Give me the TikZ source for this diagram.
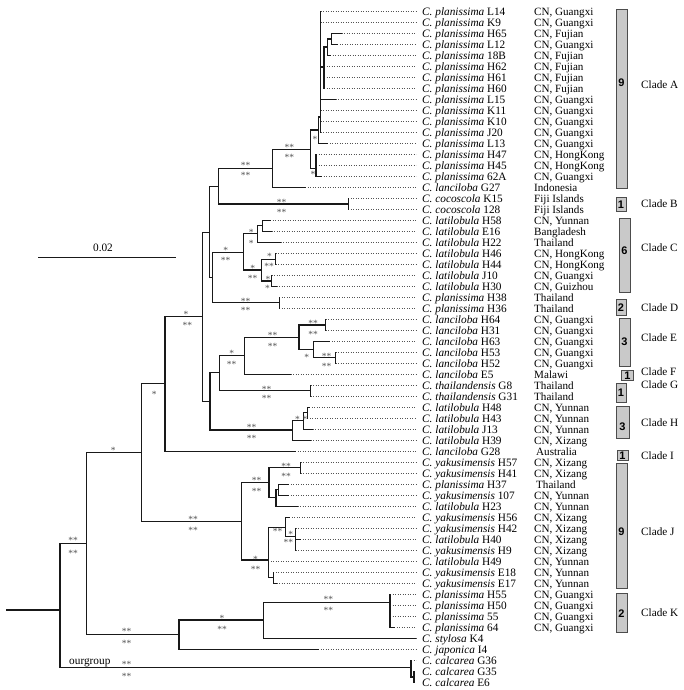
\documentclass[tikz,border=0pt]{standalone}
\usepackage{fontspec}
\setmainfont{Liberation Serif}
\newfontfamily\boxfont{Liberation Sans}
\newcount\bscnt
\tikzset{
  br/.style={line width=1.5pt,black!90,line join=miter,line cap=rect},
  dotln/.style={line width=0.7pt,gray!65!black,dash pattern=on 0.8pt off 1.7pt},
  sp/.style={anchor=base west,inner sep=0pt,font=\fontsize{11.3}{11}\selectfont},
  rg/.style={anchor=base west,inner sep=0pt,font=\fontsize{11.1}{11}\selectfont},
  bsstyle/.style={anchor=base,inner sep=0pt,text=gray!65!black,font=\fontsize{9.5}{9}\selectfont},
  cboxst/.style={fill=gray!42,draw=gray!60!black,line width=0.7pt},
  cnum/.style={anchor=base,inner sep=0pt,font=\boxfont\bfseries\fontsize{11}{11}\selectfont},
  clab/.style={anchor=base west,inner sep=0pt,font=\fontsize{11.2}{11}\selectfont},
}
% leaf with region
\newcommand{\lf}[5]{%
  \coordinate (t#1) at (#2,{0.5+11*#3});
  \draw[dotln] (t#1) -- (t#1 -| dotend);
  \node[sp] (s#1) at (422,{4.3+11*#3}) {\textit{C. #4} #1};
  \node[rg] (r#1) at (534,{4.3+11*#3}) {#5};
}
% leaf without region
\newcommand{\lfn}[4]{%
  \coordinate (t#1) at (#2,{0.5+11*#3});
  \draw[dotln] (t#1) -- (t#1 -| dotend);
  \node[sp] (s#1) at (422,{4.3+11*#3}) {\textit{C. #4} #1};
}
\newcommand{\bsl}[3]{%
  \global\advance\bscnt by 1
  \node[bsstyle] (b\the\bscnt) at (#1,{#2+4.3}) {#3};
}
\newcommand{\cl}[9]{%
  \draw[cboxst] (#2,#3) rectangle (#4,#5);
  \node[cnum] (n#1) at ({(#2+#4)/2},{#7+4}) {#6};
  \node[clab] (c#1) at (641,{#9+3.8}) {#8};
}
\begin{document}
\begin{tikzpicture}[x=1pt,y=-1pt]
\useasboundingbox (0,0) rectangle (683,690);
\fill[white] (0,0) rectangle (683,690);
\coordinate (dotend) at (416,0);

% ---------- leaves ----------
\lf{L14}{320.7}{1}{planissima}{CN, Guangxi}
\lf{K9}{320.7}{2}{planissima}{CN, Guangxi}
\lf{H65}{341.7}{3}{planissima}{CN, Fujian}
\lf{L12}{337.3}{4}{planissima}{CN, Guangxi}
\lf{18B}{330}{5}{planissima}{CN, Fujian}
\lf{H62}{324}{6}{planissima}{CN, Fujian}
\lf{H61}{324}{7}{planissima}{CN, Fujian}
\lf{H60}{324}{8}{planissima}{CN, Fujian}
\lf{L15}{335.7}{9}{planissima}{CN, Guangxi}
\lf{K11}{320.7}{10}{planissima}{CN, Guangxi}
\lf{K10}{320.7}{11}{planissima}{CN, Guangxi}
\lf{J20}{320.7}{12}{planissima}{CN, Guangxi}
\lf{L13}{327.3}{13}{planissima}{CN, Guangxi}
\lf{H47}{316}{14}{planissima}{CN, HongKong}
\lf{H45}{316}{15}{planissima}{CN, HongKong}
\lf{62A}{321}{16}{planissima}{CN, Guangxi}
\lf{G27}{305}{17}{lanciloba}{Indonesia}
\lf{K15}{348.3}{18}{cocoscola}{Fiji Islands}
\lf{128}{348.3}{19}{cocoscola}{Fiji Islands}
\lf{H58}{270}{20}{latilobula}{CN, Yunnan}
\lf{E16}{271.7}{21}{latilobula}{Bangladesh}
\lf{H22}{280.7}{22}{latilobula}{Thailand}
\lf{H46}{275.7}{23}{latilobula}{CN, HongKong}
\lf{H44}{275.7}{24}{latilobula}{CN, HongKong}
\lf{J10}{271.7}{25}{latilobula}{CN, Guangxi}
\lf{H30}{276.7}{26}{latilobula}{CN, Guizhou}
\lf{H38}{279.3}{27}{planissima}{Thailand}
\lf{H36}{279.3}{28}{planissima}{Thailand}
\lf{H64}{325.7}{29}{lanciloba}{CN, Guangxi}
\lf{H31}{325.7}{30}{lanciloba}{CN, Guangxi}
\lf{H63}{329.3}{31}{lanciloba}{CN, Guangxi}
\lf{H53}{335.7}{32}{lanciloba}{CN, Guangxi}
\lf{H52}{335.7}{33}{lanciloba}{CN, Guangxi}
\lf{E5}{290.7}{34}{lanciloba}{Malawi}
\lf{G8}{310.7}{35}{thailandensis}{Thailand}
\lf{G31}{310.7}{36}{thailandensis}{Thailand}
\lf{H48}{309.3}{37}{latilobula}{CN, Yunnan}
\lf{H43}{307.3}{38}{latilobula}{CN, Yunnan}
\lf{J13}{312.7}{39}{latilobula}{CN, Yunnan}
\lf{H39}{310.7}{40}{latilobula}{CN, Xizang}
\lf{G28}{295}{41}{lanciloba}{\hspace{2pt}Australia}
\lf{H57}{300.7}{42}{yakusimensis}{CN, Xizang}
\lf{H41}{300.7}{43}{yakusimensis}{CN, Xizang}
\lf{H37}{288.3}{44}{planissima}{\hspace{2pt}Thailand}
\lf{107}{288.3}{45}{yakusimensis}{CN, Yunnan}
\lf{H23}{297.7}{46}{latilobula}{CN, Yunnan}
\lf{H56}{289.3}{47}{yakusimensis}{CN, Xizang}
\lf{H42}{295.7}{48}{yakusimensis}{CN, Xizang}
\lf{H40}{300}{49}{latilobula}{CN, Xizang}
\lf{H9}{295.7}{50}{yakusimensis}{CN, Xizang}
\lf{H49}{268.3}{51}{latilobula}{CN, Yunnan}
\lf{E18}{273.3}{52}{yakusimensis}{CN, Yunnan}
\lf{E17}{276.7}{53}{yakusimensis}{CN, Yunnan}
\lf{H55}{390}{54}{planissima}{CN, Guangxi}
\lf{H50}{390}{55}{planissima}{CN, Guangxi}
\lf{55}{390}{56}{planissima}{CN, Guangxi}
\lf{64}{394}{57}{planissima}{CN, Guangxi}
\lfn{K4}{415.7}{58}{stylosa}
\lfn{I4}{318}{59}{japonica}
\lfn{G36}{411}{60}{calcarea}
\lfn{G35}{414}{61}{calcarea}
\lfn{E6}{414}{62}{calcarea}

% ---------- internal nodes ----------
\coordinate (R0) at (7,610);
\coordinate (R) at (60,610);
\coordinate (N1) at (86.3,543.3);
\coordinate (OG) at (411,667.7);
\coordinate (OG2) at (414,677);
\coordinate (N2) at (141.7,452.3);
\coordinate (N3) at (179,634.3);
\coordinate (N4) at (263.3,620);
\coordinate (NK) at (390,602.7);
\coordinate (N5) at (165,383.3);
\coordinate (N6) at (202.3,316.7);
\coordinate (N7) at (209.3,232.3);
\coordinate (N8) at (210,401.7);
\coordinate (N9) at (218.3,186.3);
\coordinate (N10) at (212.5,277.3);
\coordinate (N11) at (272.3,168.3);
\coordinate (NB) at (348.3,204);
\coordinate (NA) at (310.7,149.3);
\coordinate (NA1) at (318.3,130);
\coordinate (NA2) at (316,168.3);
\coordinate (NA3) at (320.7,117);
\coordinate (NA4) at (324,67);
\coordinate (NA5) at (327.7,47);
\coordinate (NA6) at (331.7,39);
\coordinate (NC) at (243.3,252.3);
\coordinate (ND) at (279.3,302.7);
\coordinate (NC1) at (257.7,233.3);
\coordinate (NC2) at (261.7,270);
\coordinate (NC3) at (262.7,225.7);
\coordinate (NC4) at (275.7,259.3);
\coordinate (NC5) at (271.7,281);
\coordinate (N12) at (219.3,372.3);
\coordinate (NH) at (292.3,430);
\coordinate (NG) at (310.7,390.7);
\coordinate (NEF) at (244.3,355.7);
\coordinate (NE) at (299,337.3);
\coordinate (NE1) at (325.7,325);
\coordinate (NE2) at (313.3,349.3);
\coordinate (NE3) at (335.7,357.3);
\coordinate (NH1) at (303.3,420.7);
\coordinate (NH2) at (307.3,412.7);
\coordinate (NJ) at (241.7,521.7);
\coordinate (NJ1) at (269,482.7);
\coordinate (NJ2) at (268.3,560);
\coordinate (NJ3) at (300.7,467.7);
\coordinate (NJ4) at (276,497.3);
\coordinate (NJ5) at (278.3,489.3);
\coordinate (NJ6) at (285.7,527.3);
\coordinate (NJ7) at (273.3,577.7);
\coordinate (NJ8) at (295.7,536.7);

% ---------- branches ----------
\draw[br] (R0) -- (R);
\foreach \p/\c in {R/N1, R/OG, OG/tG36, OG/OG2, OG2/tG35, OG2/tE6,
  N1/N2, N1/N3, N3/N4, N3/tI4, N4/NK, N4/tK4, NK/tH55, NK/tH50, NK/t55, NK/t64,
  N2/N5, N2/NJ, N5/N6, N5/tG28, N6/N7, N6/N8, N7/N9, N7/N10,
  N9/N11, N9/NB, N11/NA, N11/tG27, NB/tK15, NB/t128,
  NA/NA1, NA/NA2, NA2/tH47, NA2/tH45, NA2/t62A, NA1/NA3, NA1/tL13,
  NA3/tL14, NA3/tK9, NA3/NA4, NA3/tL15, NA3/tK11, NA3/tK10, NA3/tJ20,
  NA4/NA5, NA4/tH62, NA4/tH61, NA4/tH60, NA5/NA6, NA5/t18B, NA6/tH65, NA6/tL12,
  N10/NC, N10/ND, ND/tH38, ND/tH36, NC/NC1, NC/NC2, NC1/NC3, NC1/tH22,
  NC3/tH58, NC3/tE16, NC2/NC4, NC2/NC5, NC4/tH46, NC4/tH44, NC5/tJ10, NC5/tH30,
  N8/N12, N8/NH, N12/NEF, N12/NG, NG/tG8, NG/tG31, NEF/NE, NEF/tE5,
  NE/NE1, NE/NE2, NE1/tH64, NE1/tH31, NE2/tH63, NE2/NE3, NE3/tH53, NE3/tH52,
  NH/NH1, NH/tH39, NH1/NH2, NH1/tJ13, NH2/tH48, NH2/tH43,
  NJ/NJ1, NJ/NJ2, NJ1/NJ3, NJ1/NJ4, NJ3/tH57, NJ3/tH41, NJ4/NJ5, NJ4/tH23,
  NJ5/tH37, NJ5/t107, NJ2/NJ6, NJ2/tH49, NJ2/NJ7, NJ6/tH56, NJ6/NJ8,
  NJ8/tH42, NJ8/tH40, NJ8/tH9, NJ7/tE18, NJ7/tE17}
  \draw[br] (\p) |- (\c);

% ---------- support labels ----------
\bsl{73}{539}{**}\bsl{73}{551.7}{**}
\bsl{113.3}{449}{*}
\bsl{126.7}{630.5}{**}\bsl{126.7}{642.3}{**}
\bsl{126.7}{663.3}{**}\bsl{126.7}{675}{**}
\bsl{222}{616.7}{*}\bsl{222}{628}{**}
\bsl{328.3}{598.5}{**}\bsl{328.3}{609.5}{**}
\bsl{154.3}{392.7}{*}
\bsl{186}{312.7}{*}\bsl{187.3}{324}{**}
\bsl{193}{518}{**}\bsl{193}{529}{**}
\bsl{245.7}{164.3}{**}\bsl{245.7}{174.3}{**}
\bsl{281.7}{200.7}{**}\bsl{281.7}{211}{**}
\bsl{289.3}{145.7}{**}\bsl{289.3}{155.7}{**}
\bsl{315}{138}{*}
\bsl{313}{173.3}{*}
\bsl{225.7}{249.3}{*}\bsl{225.7}{258.7}{**}
\bsl{245.7}{300}{**}\bsl{245.7}{309}{**}
\bsl{251.3}{231.3}{*}\bsl{251.3}{241.7}{*}
\bsl{252.7}{267.3}{*}\bsl{252.7}{277.3}{**}
\bsl{269.5}{255.5}{*}\bsl{269}{265}{**}
\bsl{268}{278.3}{*}\bsl{267.5}{287.2}{*}
\bsl{231.7}{351.7}{*}\bsl{231.7}{362.7}{**}
\bsl{272.7}{334.3}{**}\bsl{272.7}{345}{**}
\bsl{313}{321.7}{**}\bsl{313}{332.8}{**}
\bsl{306.7}{356.5}{*}
\bsl{326.5}{355}{**}\bsl{326.5}{365.5}{**}
\bsl{266.7}{387.7}{**}\bsl{266.7}{396.7}{**}
\bsl{251.7}{425.7}{**}\bsl{251.7}{436.7}{**}
\bsl{297.5}{418}{*}\bsl{305}{418.3}{*}
\bsl{256.7}{478.8}{**}\bsl{256.7}{490.5}{**}
\bsl{286}{465}{**}\bsl{286}{475}{**}
\bsl{255.5}{557.8}{*}\bsl{255.5}{568.3}{**}
\bsl{277.5}{530}{**}\bsl{290.7}{533}{*}\bsl{288.3}{541.3}{**}

% ---------- outgroup label and scale bar ----------
\node[anchor=base west,inner sep=0pt,font=\fontsize{11.3}{11}\selectfont] (og) at (69,664.5) {ourgroup};
\coordinate (sb1) at (39,257.7);
\coordinate (sb2) at (175,257.7);
\draw[br] (sb1) -- (sb2);
\node[anchor=base,inner sep=0pt,font=\fontsize{11.3}{11}\selectfont] (sbl) at (103,251) {0.02};

% ---------- clade bars ----------
\cl{A}{616}{9}{627}{188}{9}{83}{Clade A}{85}
\cl{B}{616}{197}{626}{211}{1}{204}{Clade B}{204}
\cl{C}{619}{218}{630}{292}{6}{250}{Clade C}{248}
\cl{D}{616}{299}{626}{315}{2}{307}{Clade D}{308}
\cl{E}{619}{318}{630}{366}{3}{341}{Clade E}{338}
\cl{F}{621.7}{370}{633}{380}{1}{375}{Clade F}{372}
\cl{G}{616}{383}{626}{402}{1}{392.5}{Clade G}{385}
\cl{H}{616}{406}{629}{438.5}{3}{426.5}{Clade H}{423}
\cl{I}{617}{450}{628}{460}{1}{455.5}{Clade I}{455.5}
\cl{J}{616}{463}{627}{588}{9}{531}{Clade J}{532}
\cl{K}{616}{593}{627}{632}{2}{613}{Clade K}{613}
\end{tikzpicture}
\end{document}
